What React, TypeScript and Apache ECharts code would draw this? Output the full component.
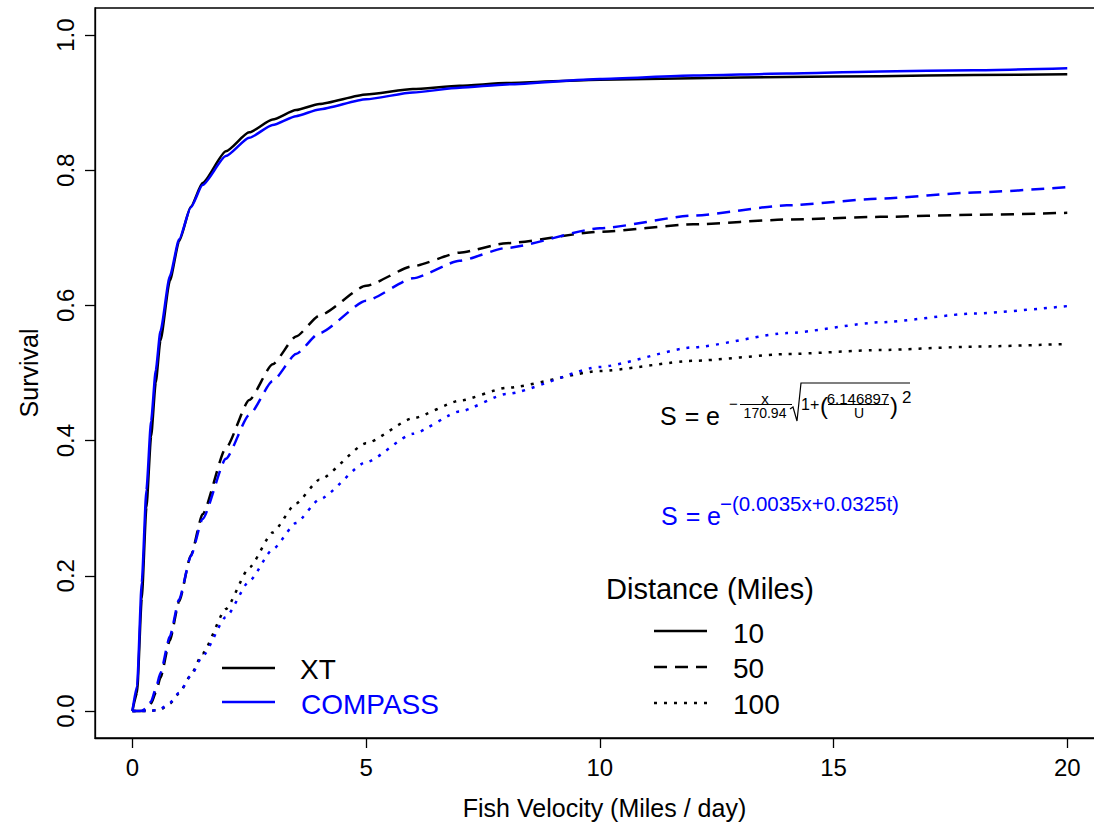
import React, { useEffect, useRef } from "react";
import * as echarts from "echarts";

// Fish velocity (miles/day) at which the curves were read
const velocity = [0, 0.1, 0.2, 0.3, 0.4, 0.5, 0.6, 0.8, 1, 1.25, 1.5, 2, 2.5, 3, 3.5, 4, 5, 6, 7, 8, 10, 12, 14, 16, 18, 20];

// XT survival, distance 10 / 50 / 100 miles
const xt10 = [0, 0.027, 0.166, 0.301, 0.406, 0.486, 0.548, 0.636, 0.695, 0.746, 0.781, 0.828, 0.856, 0.875, 0.889, 0.898, 0.912, 0.92, 0.925, 0.929, 0.934, 0.936, 0.938, 0.939, 0.941, 0.942];
const xt50 = [0, 0, 0.0001, 0.002, 0.011, 0.027, 0.049, 0.104, 0.162, 0.23, 0.291, 0.389, 0.46, 0.513, 0.554, 0.585, 0.629, 0.658, 0.678, 0.692, 0.709, 0.72, 0.727, 0.731, 0.734, 0.737];
const xt100 = [0, 0, 0, 0, 0.0001, 0.001, 0.002, 0.011, 0.026, 0.053, 0.085, 0.151, 0.212, 0.264, 0.307, 0.342, 0.396, 0.433, 0.459, 0.478, 0.503, 0.518, 0.528, 0.534, 0.539, 0.543];

// COMPASS survival, distance 10 / 50 / 100 miles
const compass10 = [0, 0.037, 0.19, 0.327, 0.429, 0.504, 0.562, 0.643, 0.698, 0.745, 0.778, 0.821, 0.848, 0.867, 0.88, 0.89, 0.905, 0.915, 0.922, 0.927, 0.935, 0.94, 0.943, 0.946, 0.948, 0.951];
const compass50 = [0, 0, 0.0002, 0.004, 0.014, 0.033, 0.056, 0.11, 0.165, 0.229, 0.284, 0.373, 0.438, 0.488, 0.528, 0.559, 0.607, 0.64, 0.666, 0.685, 0.714, 0.733, 0.748, 0.758, 0.767, 0.775];
const compass100 = [0, 0, 0, 0, 0.0002, 0.001, 0.003, 0.012, 0.027, 0.052, 0.081, 0.139, 0.192, 0.239, 0.278, 0.313, 0.368, 0.41, 0.443, 0.469, 0.509, 0.538, 0.559, 0.575, 0.588, 0.599];

const xTicks = [0, 5, 10, 15, 20];
const yTicks = [0, 0.2, 0.4, 0.6, 0.8, 1.0];
const distanceLabels = ["10", "50", "100"];
const modelLabels = ["XT", "COMPASS"];

const FONT = "Arial, 'Liberation Sans', Helvetica, sans-serif";
const BLACK = "#000000";
const BLUE = "#0000ff";
const DASH = [13, 8];
const DOT = [3, 7];
const LW = 2.5;

const pairs = (ys: number[]) => velocity.map((v, i) => [v, ys[i]]);

function lineSeries(name: string, ys: number[], color: string, type: any) {
  return {
    name,
    type: "line",
    data: pairs(ys),
    showSymbol: false,
    smooth: 0.2,
    smoothMonotone: "x",
    lineStyle: { color, width: LW, type, cap: "butt", join: "round" },
    silent: true,
  };
}

function txt(text: string, x: number, y: number, size: number, color: string, align = "left") {
  return {
    type: "text",
    x,
    y,
    style: {
      text,
      fill: color,
      fontSize: size,
      fontFamily: FONT,
      align,
      verticalAlign: "middle",
    },
  };
}

function seg(x1: number, y1: number, x2: number, y2: number, color: string, width: number, dash?: number[]) {
  return {
    type: "line",
    shape: { x1, y1, x2, y2 },
    style: { stroke: color, lineWidth: width, lineDash: dash, lineCap: "butt" },
  };
}

export default function App() {
  const ref = useRef<HTMLDivElement>(null);

  useEffect(() => {
    document.body.style.margin = "0";
    const chart = echarts.init(ref.current!, null, { renderer: "svg" });

    const series = [
      lineSeries("XT 10", xt10, BLACK, "solid"),
      lineSeries("XT 50", xt50, BLACK, DASH),
      lineSeries("XT 100", xt100, BLACK, DOT),
      lineSeries("COMPASS 10", compass10, BLUE, "solid"),
      lineSeries("COMPASS 50", compass50, BLUE, DASH),
      lineSeries("COMPASS 100", compass100, BLUE, DOT),
    ];

    const graphics: any[] = [
      // model legend (bottom left)
      seg(222, 668, 275, 668, BLACK, LW),
      txt(modelLabels[0], 300, 669, 28, BLACK),
      seg(222, 702, 275, 702, BLUE, LW),
      txt(modelLabels[1], 301, 704, 28, BLUE),
      // distance legend
      txt("Distance (Miles)", 606, 589, 29, BLACK),
      seg(654, 631, 707, 631, BLACK, LW),
      txt(distanceLabels[0], 733, 633, 28, BLACK),
      seg(654, 667, 707, 667, BLACK, LW, DASH),
      txt(distanceLabels[1], 733, 668, 28, BLACK),
      seg(654, 703, 707, 703, BLACK, LW, DOT),
      txt(distanceLabels[2], 733, 704, 28, BLACK),

      // XT formula
      txt("S", 660, 416, 25, BLACK),
      txt("=", 692, 416, 25, BLACK, "center"),
      txt("e", 706, 416, 25, BLACK),
      txt("\u2212", 729, 403, 15, BLACK),
      txt("x", 765, 398, 15, BLACK, "center"),
      seg(740, 404.5, 792, 404.5, BLACK, 1),
      txt("170.94", 765, 413, 14, BLACK, "center"),
      {
        type: "polyline",
        shape: { points: [[790, 409], [793, 407], [797, 421], [801, 383], [910, 383]] },
        style: { stroke: BLACK, fill: "none", lineWidth: 1.2 },
      },
      txt("1+", 801, 404, 16, BLACK),
      txt("(", 820, 405, 24, BLACK),
      txt("6.146897", 858, 398, 15, BLACK, "center"),
      seg(828, 404.5, 889, 404.5, BLACK, 1),
      txt("U", 859, 413, 14, BLACK, "center"),
      txt(")", 890, 405, 24, BLACK),
      txt("2", 902, 397, 17, BLACK),

      // COMPASS formula
      txt("S", 661, 516, 25, BLUE),
      txt("=", 693, 516, 25, BLUE, "center"),
      txt("e", 707, 516, 25, BLUE),
      txt("\u2212(0.0035x+0.0325t)", 720, 503, 20.5, BLUE),
    ];

    chart.setOption({
      animation: false,
      backgroundColor: "#ffffff",
      grid: {
        left: 95,
        right: -20,
        top: 8,
        bottom: 84,
        show: true,
        borderColor: BLACK,
        borderWidth: 1.3,
        containLabel: false,
        outerBoundsMode: "none",
      },
      xAxis: {
        type: "value",
        min: -0.8,
        max: 21.0,
        name: "Fish Velocity (Miles / day)",
        nameLocation: "middle",
        nameGap: 57,
        nameTextStyle: { fontSize: 25, color: BLACK, fontFamily: FONT },
        axisLine: { show: true, onZero: false, lineStyle: { color: BLACK, width: 1.3 } },
        axisTick: { show: true, customValues: xTicks, length: 10, lineStyle: { color: BLACK, width: 1.3 } },
        axisLabel: { customValues: xTicks, fontSize: 24, color: BLACK, fontFamily: FONT, margin: 17 },
        splitLine: { show: false },
      },
      yAxis: {
        type: "value",
        min: -0.04,
        max: 1.04,
        name: "Survival",
        nameLocation: "middle",
        nameGap: 54,
        nameTextStyle: { fontSize: 25, color: BLACK, fontFamily: FONT },
        axisLine: { show: true, onZero: false, lineStyle: { color: BLACK, width: 1.3 } },
        axisTick: { show: true, customValues: yTicks, length: 10, lineStyle: { color: BLACK, width: 1.3 } },
        axisLabel: {
          customValues: yTicks,
          rotate: 90,
          fontSize: 24,
          color: BLACK,
          fontFamily: FONT,
          margin: 18,
          formatter: (v: number) => v.toFixed(1),
        },
        splitLine: { show: false },
      },
      series,
      graphic: graphics,
    });

    return () => chart.dispose();
  }, []);

  return <div ref={ref} style={{ width: 1094, height: 822 }} />;
}
